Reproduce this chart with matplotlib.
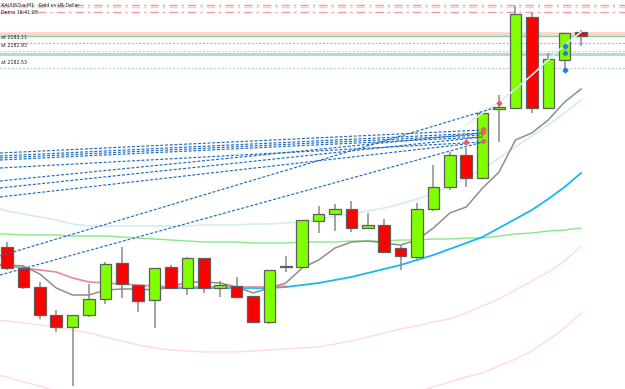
import numpy as np
import matplotlib
matplotlib.use("Agg")
import matplotlib.pyplot as plt
from matplotlib.patches import Rectangle

# ---------------- data (bar index, prices) ----------------
bars = list(range(36))
opens = [2178.96, 2178.54, 2178.16, 2177.60, 2177.36, 2177.60, 2177.92, 2178.64, 2178.20, 2177.90,
         2178.56, 2178.14, 2178.74, 2178.14, 2178.18, 2177.98, 2177.46, 2178.56, 2178.56, 2179.48,
         2179.62, 2179.72, 2179.34, 2179.40, 2178.94, 2178.76, 2179.72, 2180.16, 2180.80, 2180.34,
         2181.72, 2181.74, 2183.56, 2181.74, 2182.70, 2183.26]
highs = [2179.06, 2178.58, 2178.26, 2177.70, 2177.60, 2178.22, 2178.66, 2178.96, 2178.20, 2178.54,
         2178.60, 2178.76, 2178.74, 2178.28, 2178.36, 2177.98, 2178.50, 2178.78, 2179.50, 2179.78,
         2179.82, 2179.88, 2179.64, 2179.52, 2179.00, 2179.84, 2180.60, 2180.86, 2180.94, 2181.64,
         2182.00, 2183.78, 2183.64, 2182.84, 2183.24, 2183.30]
lows = [2178.50, 2178.12, 2177.52, 2177.26, 2176.18, 2177.56, 2177.82, 2177.94, 2177.66, 2177.34,
        2178.12, 2178.00, 2178.04, 2177.96, 2177.96, 2177.46, 2177.42, 2178.46, 2178.56, 2179.24,
        2179.28, 2179.26, 2179.34, 2178.86, 2178.50, 2178.70, 2179.68, 2180.10, 2180.16, 2180.34,
        2181.06, 2181.74, 2181.64, 2181.74, 2182.46, 2182.98]
closes = [2178.54, 2178.16, 2177.60, 2177.36, 2177.60, 2177.92, 2178.62, 2178.22, 2177.88, 2178.54,
          2178.14, 2178.74, 2178.14, 2178.20, 2177.96, 2177.46, 2178.50, 2178.57, 2179.50, 2179.62,
          2179.72, 2179.34, 2179.40, 2178.86, 2178.78, 2179.72, 2180.16, 2180.80, 2180.34, 2181.64,
          2181.76, 2183.62, 2181.74, 2182.72, 2183.24, 2183.18]

ma_bars = list(range(-1, 36))
ma_gray = [2178.62, 2178.60, 2178.58, 2178.42, 2178.14, 2178.00, 2178.00, 2178.10, 2178.12, 2178.12,
           2178.10, 2178.16, 2178.26, 2178.26, 2178.24, 2178.16, 2178.04, 2178.14, 2178.24, 2178.54,
           2178.70, 2178.94, 2179.06, 2179.08, 2179.04, 2179.00, 2179.10, 2179.34, 2179.64, 2179.76,
           2180.14, 2180.46, 2181.10, 2181.24, 2181.50, 2181.86, 2182.12]
ma_pink_bars = list(range(-1, 18))
ma_pink = [2178.62, 2178.58, 2178.54, 2178.50, 2178.46, 2178.34, 2178.26, 2178.24, 2178.22, 2178.20,
           2178.18, 2178.16, 2178.16, 2178.16, 2178.16, 2178.16, 2178.16, 2178.16, 2178.18]
ma_blue_bars = list(range(9, 36))
ma_blue = [2178.14, 2178.14, 2178.14, 2178.14, 2178.14, 2178.14, 2178.14, 2178.14, 2178.16, 2178.20,
           2178.24, 2178.30, 2178.36, 2178.44, 2178.52, 2178.60, 2178.70, 2178.80, 2178.92, 2179.04,
           2179.16, 2179.34, 2179.52, 2179.70, 2179.92, 2180.16, 2180.44]
ma_green = [2179.22, 2179.22, 2179.20, 2179.20, 2179.20, 2179.18, 2179.18, 2179.18, 2179.16, 2179.14,
            2179.12, 2179.10, 2179.08, 2179.06, 2179.06, 2179.06, 2179.04, 2179.04, 2179.04, 2179.06,
            2179.06, 2179.06, 2179.08, 2179.08, 2179.08, 2179.10, 2179.10, 2179.12, 2179.12, 2179.14,
            2179.14, 2179.18, 2179.22, 2179.24, 2179.28, 2179.30, 2179.34]
ma_lightcyan = [2179.78, 2179.68, 2179.62, 2179.56, 2179.50, 2179.42, 2179.38, 2179.38, 2179.38, 2179.38,
                2179.38, 2179.38, 2179.38, 2179.40, 2179.40, 2179.40, 2179.42, 2179.42, 2179.44, 2179.46,
                2179.50, 2179.58, 2179.62, 2179.68, 2179.74, 2179.82, 2179.92, 2180.04, 2180.18, 2180.34,
                2180.52, 2180.74, 2180.96, 2181.18, 2181.40, 2181.64, 2181.90]
band_low1 = [2177.50, 2177.48, 2177.44, 2177.40, 2177.36, 2177.30, 2177.24, 2177.16, 2177.08, 2177.00,
             2176.94, 2176.90, 2176.88, 2176.86, 2176.86, 2176.86, 2176.88, 2176.90, 2176.92, 2176.94,
             2176.96, 2177.02, 2177.08, 2177.16, 2177.24, 2177.32, 2177.38, 2177.46, 2177.52, 2177.64,
             2177.78, 2177.92, 2178.10, 2178.28, 2178.46, 2178.68, 2178.98]
nan = float("nan")
band_low2 = [2176.42, 2176.36, 2176.26, 2176.18, 2176.08] + [nan] * 21 + \
            [2176.06, 2176.16, 2176.26, 2176.36, 2176.44, 2176.58, 2176.72, 2176.88, 2177.10, 2177.34, 2177.64]
band_up_bars = [28, 29, 30, 31, 32, 33, 34, 35]
band_up = [2181.40, 2181.64, 2181.86, 2182.12, 2182.40, 2182.70, 2183.00, 2183.26]

# horizontal levels
lvl_dashdot = [2183.806, 2183.754, 2183.654]
lvl_pink = 2183.22
lvl_green = [2183.18, 2182.826]
lvl_dotted = [2183.04, 2182.88, 2182.546]
lvl_labels = ["at 2183.11", "at 2182.93", "at 2182.53"]

# trend lines (start bar, start price, end bar, end price)
tl_x0 = [-0.43, -0.43, -0.43, -0.43, -0.43, -0.43, -0.43, -0.43, -0.43, -0.43]
tl_y0 = [2180.84, 2180.78, 2180.74, 2180.70, 2180.54, 2180.28, 2180.14, 2179.96, 2178.78, 2178.40]
tl_x1 = [29.0, 29.0, 29.0, 29.0, 29.0, 29.0, 29.0, 28.0, 29.9, 29.0]
tl_y1 = [2181.30, 2181.24, 2181.20, 2181.16, 2181.06, 2181.24, 2181.16, 2181.02, 2181.76, 2181.06]
mark_red_x = [29.0, 29.0, 29.0, 28.0, 30.0]
mark_red_y = [2181.32, 2181.26, 2181.08, 2181.06, 2181.84]
mark_blue_x = [34.0, 34.0, 34.0]
mark_blue_y = [2182.98, 2182.84, 2182.50]

title_lines = ["XAUUSD.a,M1:  Gold vs US Dollar", "Demo 16:41:08"]

# ---------------- figure ----------------
W, H = 625, 389
fig = plt.figure(figsize=(W / 100, H / 100), dpi=100)
ax = fig.add_axes([0, 0, 1, 1])
ax.set_xlim(-0.427, 37.68)
ax.set_ylim(2176.12, 2183.90)
ax.axis("off")
fig.patch.set_facecolor("white")

# horizontal levels
ax.axhline(lvl_dashdot[0], color="#F49A9A", lw=1.0, ls=(0, (6, 3, 1.5, 3)), zorder=1)
ax.axhline(lvl_dashdot[1], color="#F8CACA", lw=1.0, ls=(0, (6, 3, 1.5, 3)), zorder=1)
ax.axhline(lvl_dashdot[2], color="#F49A9A", lw=1.0, ls=(0, (6, 3, 1.5, 3)), zorder=1)
ax.axhline(lvl_pink, color="#FBD3D3", lw=2.6, zorder=1)
ax.axhline(lvl_green[0], color="#8CCF8C", lw=1.0, zorder=1)
ax.axhline(lvl_green[1], color="#B9DDB9", lw=2.2, zorder=1)
ax.axhline(lvl_dotted[0], color="#8DBFCB", lw=0.9, ls=(0, (1.5, 1.5)), zorder=1)
ax.axhline(lvl_dotted[1], color="#A9DCE3", lw=0.9, ls=(0, (1.5, 1.5)), zorder=1)
ax.axhline(lvl_dotted[2], color="#A9D4DC", lw=0.9, ls=(0, (1.5, 1.5)), zorder=1)

# moving averages / bands
ax.plot(ma_bars, band_low1, color="#FFDADA", lw=1.0, zorder=2)
ax.plot(ma_bars, band_low2, color="#FFDADA", lw=1.0, zorder=2)
ax.plot(ma_bars, ma_lightcyan, color="#D2ECF4", lw=1.2, zorder=2)
ax.plot(band_up_bars, band_up, color="#D8EEF5", lw=1.2, zorder=4.5)
ax.plot(ma_bars, ma_green, color="#86EA86", lw=1.0, zorder=2)
ax.plot(ma_blue_bars, ma_blue, color="#1AB6F2", lw=1.3, zorder=2)
ax.plot(ma_pink_bars, ma_pink, color="#E4899B", lw=1.2, zorder=2)
ax.plot(ma_bars, ma_gray, color="#8E8E8E", lw=1.1, zorder=2)

# candles
bw = 0.7
for b, o, h, l, c in zip(bars, opens, highs, lows, closes):
    ax.plot([b, b], [l, h], color="#8A8A8A", lw=1.1, zorder=3, solid_capstyle="butt")
    col = "#7FFF00" if c >= o else "#FF0000"
    lo = min(o, c)
    ht = max(abs(c - o), 0.02)
    ax.add_patch(Rectangle((b - bw / 2, lo), bw, ht, facecolor=col,
                           edgecolor="#5E5E5E", lw=0.9, zorder=4))

# trend lines
for x0, y0, x1, y1 in zip(tl_x0, tl_y0, tl_x1, tl_y1):
    ax.plot([x0, x1], [y0, y1], color="#1F6DBE", lw=0.85, ls=(0, (2.5, 1.5)), zorder=5)

ax.plot(mark_red_x, mark_red_y, ls="none", marker="P", ms=3.0, color="#F05A6A", zorder=6)
ax.plot(mark_blue_x, mark_blue_y, ls="none", marker="P", ms=3.0, color="#2A7FD0", zorder=6)

# texts
ax.text(1 / W, 1 - 5 / H, title_lines[0], transform=ax.transAxes, fontsize=3.4,
        color="#222222", ha="left", va="center")
ax.text(1 / W, 1 - 12 / H, title_lines[1], transform=ax.transAxes, fontsize=3.4,
        color="#222222", ha="left", va="center")
for lvl, lab in zip(lvl_dotted, lvl_labels):
    ax.text(1 / W, lvl + 0.05, lab, transform=ax.get_yaxis_transform(), fontsize=3.4,
            color="#222222", ha="left", va="bottom")

fig.savefig("out.png", dpi=100, facecolor="white")
